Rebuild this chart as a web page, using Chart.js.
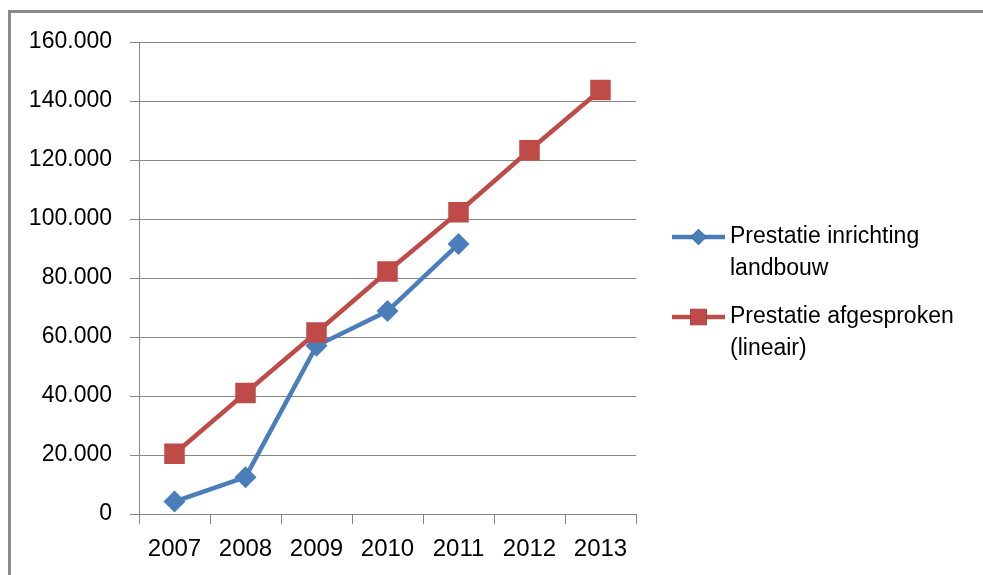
<!DOCTYPE html>
<html>
<head>
<meta charset="utf-8">
<script src="https://cdn.jsdelivr.net/npm/chart.js@4.4.1/dist/chart.umd.min.js"></script>
<style>
  html, body { margin: 0; padding: 0; background: #fff; overflow: hidden; }
  #wrap { position: relative; width: 983px; height: 575px; }
  #chart { position: absolute; left: 0; top: 0; }
  #frame {
    position: absolute; left: 8px; top: 10px; width: 1100px; height: 700px;
    border-left: 3px solid #8c8c8c; border-top: 3px solid #8c8c8c;
    pointer-events: none;
  }
</style>
</head>
<body>
<div id="wrap">
  <canvas id="chart" width="983" height="575"></canvas>
  <div id="frame"></div>
</div>
<script>
// ------------------ Data ------------------
const years = ["2007", "2008", "2009", "2010", "2011", "2012", "2013"];
const inrichting = [4200, 12500, 57000, 68800, 91500, null, null];
const afgesproken = [20400, 41000, 61500, 82200, 102300, 123300, 143700];
const legendLines = [
  ["Prestatie inrichting", "landbouw"],
  ["Prestatie afgesproken", "(lineair)"]
];

const FONT = "'Liberation Sans', Arial, sans-serif";
const GRID = "#878787";

function dutch(v) {
  return String(v).replace(/\B(?=(\d{3})+(?!\d))/g, ".");
}

// draws the wrapped legend to the right of the plot
const sideLegend = {
  id: "sideLegend",
  afterDraw(chart) {
    const ctx = chart.ctx;
    const rows = [237, 317];
    ctx.save();
    chart.data.datasets.forEach((ds, i) => {
      const y = rows[i];
      ctx.strokeStyle = ds.borderColor;
      ctx.lineWidth = ds.borderWidth;
      ctx.beginPath();
      ctx.moveTo(672, y);
      ctx.lineTo(725, y);
      ctx.stroke();
      Chart.helpers.drawPoint(ctx, {
        pointStyle: ds.pointStyle,
        radius: ds.legendRadius,
        borderWidth: 0
      }, 698.5, y);
      ctx.fillStyle = ds.pointBackgroundColor;
      ctx.fill();
      ctx.fillStyle = "#000";
      ctx.font = "23px " + FONT;
      ctx.textBaseline = "middle";
      ctx.textAlign = "left";
      legendLines[i].forEach((t, k) => ctx.fillText(t, 730, y + k * 32));
    });
    ctx.restore();
  }
};

new Chart(document.getElementById("chart"), {
  type: "line",
  data: {
    labels: years,
    datasets: [
      {
        label: legendLines[0].join(" "),
        data: inrichting,
        borderColor: "#4A7EBB",
        backgroundColor: "#4A7EBB",
        pointBackgroundColor: "#4A7EBB",
        pointBorderWidth: 0,
        borderWidth: 4.5,
        pointStyle: "rectRot",
        pointRadius: 11,
        legendRadius: 8,
        tension: 0,
        order: 1
      },
      {
        label: legendLines[1].join(" "),
        data: afgesproken,
        borderColor: "#BE4B48",
        backgroundColor: "#BE4B48",
        pointBackgroundColor: "#BE4B48",
        pointBorderWidth: 0,
        borderWidth: 4.5,
        pointStyle: "rect",
        pointRadius: 14.5,
        legendRadius: 11.5,
        tension: 0,
        order: 0
      }
    ]
  },
  options: {
    responsive: false,
    animation: false,
    layout: { padding: { top: 42, right: 347, left: 0, bottom: 0 } },
    plugins: {
      legend: { display: false },
      tooltip: { enabled: false }
    },
    scales: {
      x: {
        offset: true,
        grid: { drawOnChartArea: false, offset: true, color: GRID, tickLength: 10 },
        border: { display: true, color: GRID },
        ticks: { color: "#000", font: { family: FONT, size: 24 }, padding: 11, maxRotation: 0 },
        afterFit(scale) { scale.height = 61; }
      },
      y: {
        min: 0,
        max: 160000,
        grid: { color: GRID, tickLength: 9 },
        border: { display: true, color: GRID },
        ticks: {
          stepSize: 20000,
          color: "#000",
          font: { family: FONT, size: 23 },
          padding: 18,
          callback: v => dutch(v)
        },
        afterFit(scale) { scale.width = 139; }
      }
    }
  },
  plugins: [sideLegend]
});
</script>
</body>
</html>
